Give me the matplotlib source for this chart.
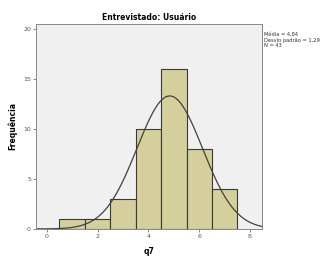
import numpy as np
import matplotlib.pyplot as plt

# histogram of q7 (bin centres, counts)
centres = [1, 2, 3, 4, 5, 6, 7]
counts = [1, 1, 3, 10, 16, 8, 4]
mean, sd, n = 4.84, 1.29, 43
xticks = [0, 2, 4, 6, 8]
yticks = [0, 5, 10, 15, 20]

BAR = "#d4cf9b"
BG = "#f0f0f0"

fig = plt.figure(figsize=(3.23, 2.57), dpi=100)
ax = fig.add_axes([0.111, 0.109, 0.700, 0.798])
ax.set_facecolor(BG)
ax.bar(centres, counts, width=1.0, color=BAR, edgecolor="#3a3a30", linewidth=0.8)

xs = np.linspace(-0.43, 8.47, 400)
ys = n * 1.0 * np.exp(-0.5 * ((xs - mean) / sd) ** 2) / (sd * np.sqrt(2 * np.pi))
ax.plot(xs, ys, color="#404040", lw=0.9)

ax.set_xlim(-0.43, 8.47)
ax.set_ylim(0, 20.5)
ax.set_xticks(xticks)
ax.set_yticks(yticks)
ax.tick_params(labelsize=4.5, length=2, width=0.5, colors="#555555", pad=1.5)
for s in ax.spines.values():
    s.set_color("#888888"); s.set_linewidth(0.7)

ax.set_title("Entrevistado: Usuário", fontsize=5.5, fontweight="bold", pad=3)
ax.set_xlabel("q7", fontsize=5.5, fontweight="bold", labelpad=6)
ax.set_ylabel("Frequência", fontsize=5.5, fontweight="bold", labelpad=4)

fig.text(0.816, 0.875, f"Média = {mean:.2f}".replace(".", ",") + "\n"
         + f"Desvio padrão = {sd:.2f}".replace(".", ",") + f"\nN = {n}",
         fontsize=3.7, va="top", ha="left", color="#333333", linespacing=1.1)

fig.savefig("out.png", dpi=100)
